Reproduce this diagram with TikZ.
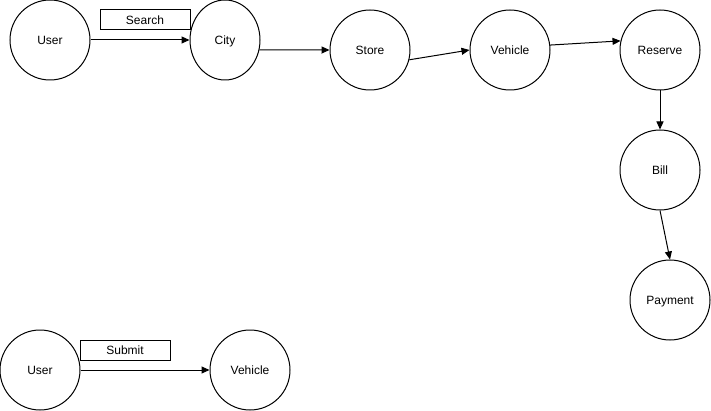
\documentclass[tikz,border=0pt]{standalone}
\usepackage{fontspec}
\setmainfont{Liberation Sans}
\usetikzlibrary{arrows.meta,shapes.geometric}
\begin{document}
\begin{tikzpicture}[x=1pt,y=-1pt,
  txt/.style={font=\fontsize{12}{14}\selectfont,text height=8.6pt,text depth=0pt},
  state/.style={draw,circle,line width=1pt,minimum size=80pt,inner sep=0pt,txt},
  ell/.style={draw,ellipse,line width=1pt,minimum width=70pt,minimum height=80pt,inner sep=0pt,txt},
  lbl/.style={draw,rectangle,line width=1pt,minimum width=90pt,minimum height=20pt,inner sep=0pt,txt},
  conn/.style={line width=1pt,-{Stealth[length=8pt,width=7pt,inset=0pt]}}]
\useasboundingbox (0,0) rectangle (711,411);
\node[state] (user1) at (50,40) {User};
\node[ell] (city) at (225,40) {City};
\node[state] (store) at (370,50) {Store};
\node[state] (veh1) at (510,50) {Vehicle};
\node[state] (res) at (660,50) {Reserve};
\node[state] (bill) at (660,170) {Bill};
\node[state] (pay) at (670,300) {Payment};
\node[state] (user2) at (40,370) {User};
\node[state] (veh2) at (250,370) {Vehicle};
\node[lbl] (search) at (145,20) {Search};
\node[lbl] (submit) at (125,350) {Submit};
\draw[conn] (user1.east) -- (city.west);
\draw[conn] (city.-16.4) -- (store.west);
\draw[conn] (store.-14) -- (veh1.west);
\draw[conn] (veh1.7) -- (res.167);
\draw[conn] (res.south) -- (bill.north);
\draw[conn] (bill.south) -- (pay.north);
\draw[conn] (user2.east) -- (veh2.west);
\end{tikzpicture}
\end{document}
